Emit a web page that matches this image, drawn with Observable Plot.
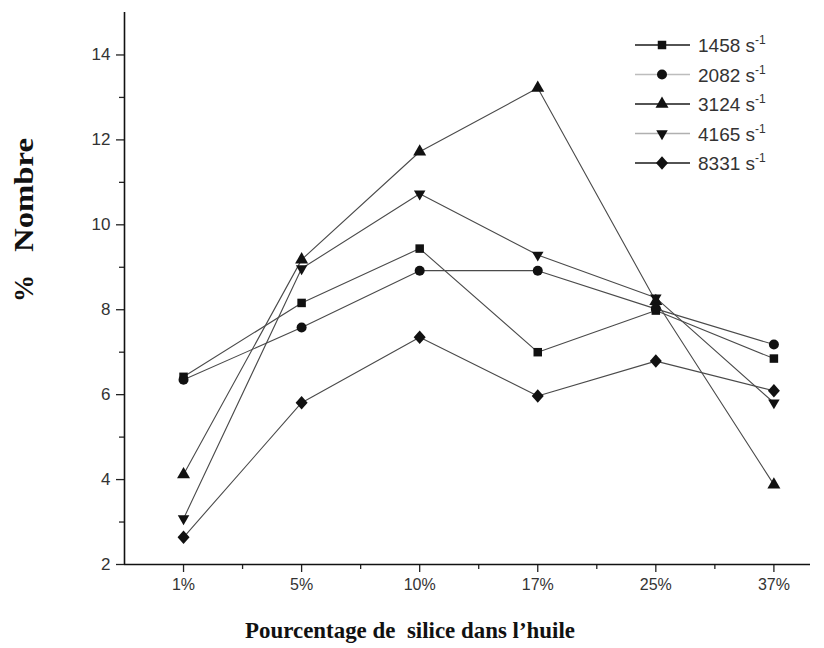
<!DOCTYPE html>
<html>
<head>
<meta charset="utf-8">
<script src="https://cdn.jsdelivr.net/npm/d3@7"></script>
<script src="https://cdn.jsdelivr.net/npm/@observablehq/plot@0.6"></script>
<style>
  html, body { margin: 0; padding: 0; background: #fff; }
  #chart { width: 824px; height: 648px; }
</style>
</head>
<body>
<div id="chart"></div>
<script>
// ---- data ----
const categories = ["1%", "5%", "10%", "17%", "25%", "37%"];
const rates = ["1458", "2082", "3124", "4165", "8331"];
const v1458 = [6.42, 8.16, 9.44, 7.00, 7.98, 6.85];
const v2082 = [6.35, 7.58, 8.92, 8.92, 8.02, 7.18];
const v3124 = [4.12, 9.18, 11.72, 13.22, 8.20, 3.88];
const v4165 = [3.08, 8.97, 10.73, 9.29, 8.28, 5.81];
const v8331 = [2.64, 5.81, 7.35, 5.97, 6.79, 6.09];
const yTicks = [2, 4, 6, 8, 10, 12, 14];
const yMinorTicks = [3, 5, 7, 9, 11, 13];
const xMinorTicks = [0.5, 1.5, 2.5, 3.5, 4.5];
const xTitle = "Pourcentage de  silice dans l\u2019huile";
const yTitleA = "%";
const yTitleB = "Nombre";
const legendLineColors = ["#1a1a1a", "#bdbdbd", "#1a1a1a", "#b0b0b0", "#1a1a1a"];

const seriesValues = [v1458, v2082, v3124, v4165, v8331];
const data = rates.flatMap((rate, i) =>
  seriesValues[i].map((v, j) => ({rate, xi: j, cat: categories[j], value: v}))
);

// ---- custom marker shapes (size = PI r^2) ----
const sym = (fn) => ({draw(ctx, size) { fn(ctx, Math.sqrt(size / Math.PI)); }});
const symSquare = sym((c, r) => { const h = r * 0.85; c.moveTo(-h, -h); c.lineTo(h, -h); c.lineTo(h, h); c.lineTo(-h, h); c.closePath(); });
const symCircle = sym((c, r) => { c.moveTo(r, 0); c.arc(0, 0, r, 0, 2 * Math.PI); });
const symTriUp = sym((c, r) => { const b = 1.3 * r, h = 2 * b * 0.866; c.moveTo(0, -2 * h / 3); c.lineTo(b, h / 3); c.lineTo(-b, h / 3); c.closePath(); });
const symTriDown = sym((c, r) => { const b = 1.15 * r, h = 2 * b * 0.866; c.moveTo(0, 2 * h / 3); c.lineTo(b, -h / 3); c.lineTo(-b, -h / 3); c.closePath(); });
const symDiamond = sym((c, r) => { const w = 1.2 * r, h = 1.35 * r; c.moveTo(0, -h); c.lineTo(w, 0); c.lineTo(0, h); c.lineTo(-w, 0); c.closePath(); });
const symbols = [symSquare, symCircle, symTriUp, symTriDown, symDiamond];

const xDomain = [-0.5, 5.31];
const yDomain = [2, 15];

const chart = Plot.plot({
  width: 824,
  height: 648,
  marginLeft: 124,
  marginRight: 14,
  marginTop: 12,
  marginBottom: 84,
  style: {fontFamily: "'Liberation Sans', Arial, sans-serif", fontSize: "16px", background: "#fff", color: "#222"},
  x: {type: "linear", domain: xDomain, axis: null},
  y: {type: "linear", domain: yDomain, axis: null},
  symbol: {domain: rates, range: symbols},
  marks: [
    Plot.line(data, {x: "xi", y: "value", z: "rate", stroke: "#4a4a4a", strokeWidth: 1.1}),
    Plot.dot(data, {x: "xi", y: "value", symbol: "rate", r: 5, fill: "#111", stroke: "none"}),
    Plot.axisX(d3.range(categories.length), {tickSize: 8, tickPadding: 6, tickFormat: (i) => categories[i], fontSize: 16, fill: "#333", stroke: "#222", strokeWidth: 1.3, label: null}),
    Plot.axisX(xMinorTicks, {tickSize: 5, tickFormat: () => "", stroke: "#222", strokeWidth: 1.3, label: null}),
    Plot.axisY(yTicks, {tickSize: 8, tickPadding: 6, fontSize: 17, fill: "#333", stroke: "#222", strokeWidth: 1.3, label: null}),
    Plot.axisY(yMinorTicks, {tickSize: 5, tickFormat: () => "", stroke: "#222", strokeWidth: 1.3, label: null}),
    Plot.ruleX([xDomain[0]], {stroke: "#111", strokeWidth: 1.6}),
    Plot.ruleY([yDomain[0]], {stroke: "#111", strokeWidth: 1.6})
  ]
});

document.getElementById("chart").appendChild(chart);

// ---- titles and legend ----
const svg = d3.select(chart);
const serif = "'Liberation Serif', 'Times New Roman', 'DejaVu Serif', serif";

svg.append("text")
  .attr("x", 245).attr("y", 638)
  .attr("text-anchor", "start")
  .attr("font-family", serif).attr("font-weight", "bold").attr("font-size", 23)
  .attr("fill", "#111")
  .attr("xml:space", "preserve").style("white-space", "pre")
  .attr("textLength", 330).attr("lengthAdjust", "spacingAndGlyphs")
  .text(xTitle);

svg.append("text")
  .attr("transform", "translate(33,302) rotate(-90)")
  .attr("text-anchor", "start")
  .attr("font-family", serif).attr("font-weight", "bold").attr("font-size", 27)
  .attr("fill", "#111")
  .attr("textLength", 27).attr("lengthAdjust", "spacingAndGlyphs")
  .text(yTitleA);

svg.append("text")
  .attr("transform", "translate(33,252) rotate(-90)")
  .attr("text-anchor", "start")
  .attr("font-family", serif).attr("font-weight", "bold").attr("font-size", 27)
  .attr("fill", "#111")
  .attr("textLength", 114).attr("lengthAdjust", "spacingAndGlyphs")
  .text(yTitleB);

const legend = svg.append("g");
rates.forEach((rate, i) => {
  const y = 45 + i * 29.5;
  legend.append("line")
    .attr("x1", 635).attr("x2", 690).attr("y1", y).attr("y2", y)
    .attr("stroke", legendLineColors[i]).attr("stroke-width", 1.6);
  legend.append("path")
    .attr("transform", `translate(662,${y})`)
    .attr("d", d3.symbol().type(symbols[i]).size(Math.PI * 25)())
    .attr("fill", "#111");
  const t = legend.append("text")
    .attr("x", 698).attr("y", y + 7)
    .attr("text-anchor", "start")
    .attr("font-family", "'Liberation Sans', Arial, sans-serif")
    .attr("font-size", 19).attr("fill", "#333");
  t.append("tspan").text(rate + " s");
  t.append("tspan").attr("dy", -8).attr("font-size", 12).text("-1");
});
</script>
</body>
</html>
